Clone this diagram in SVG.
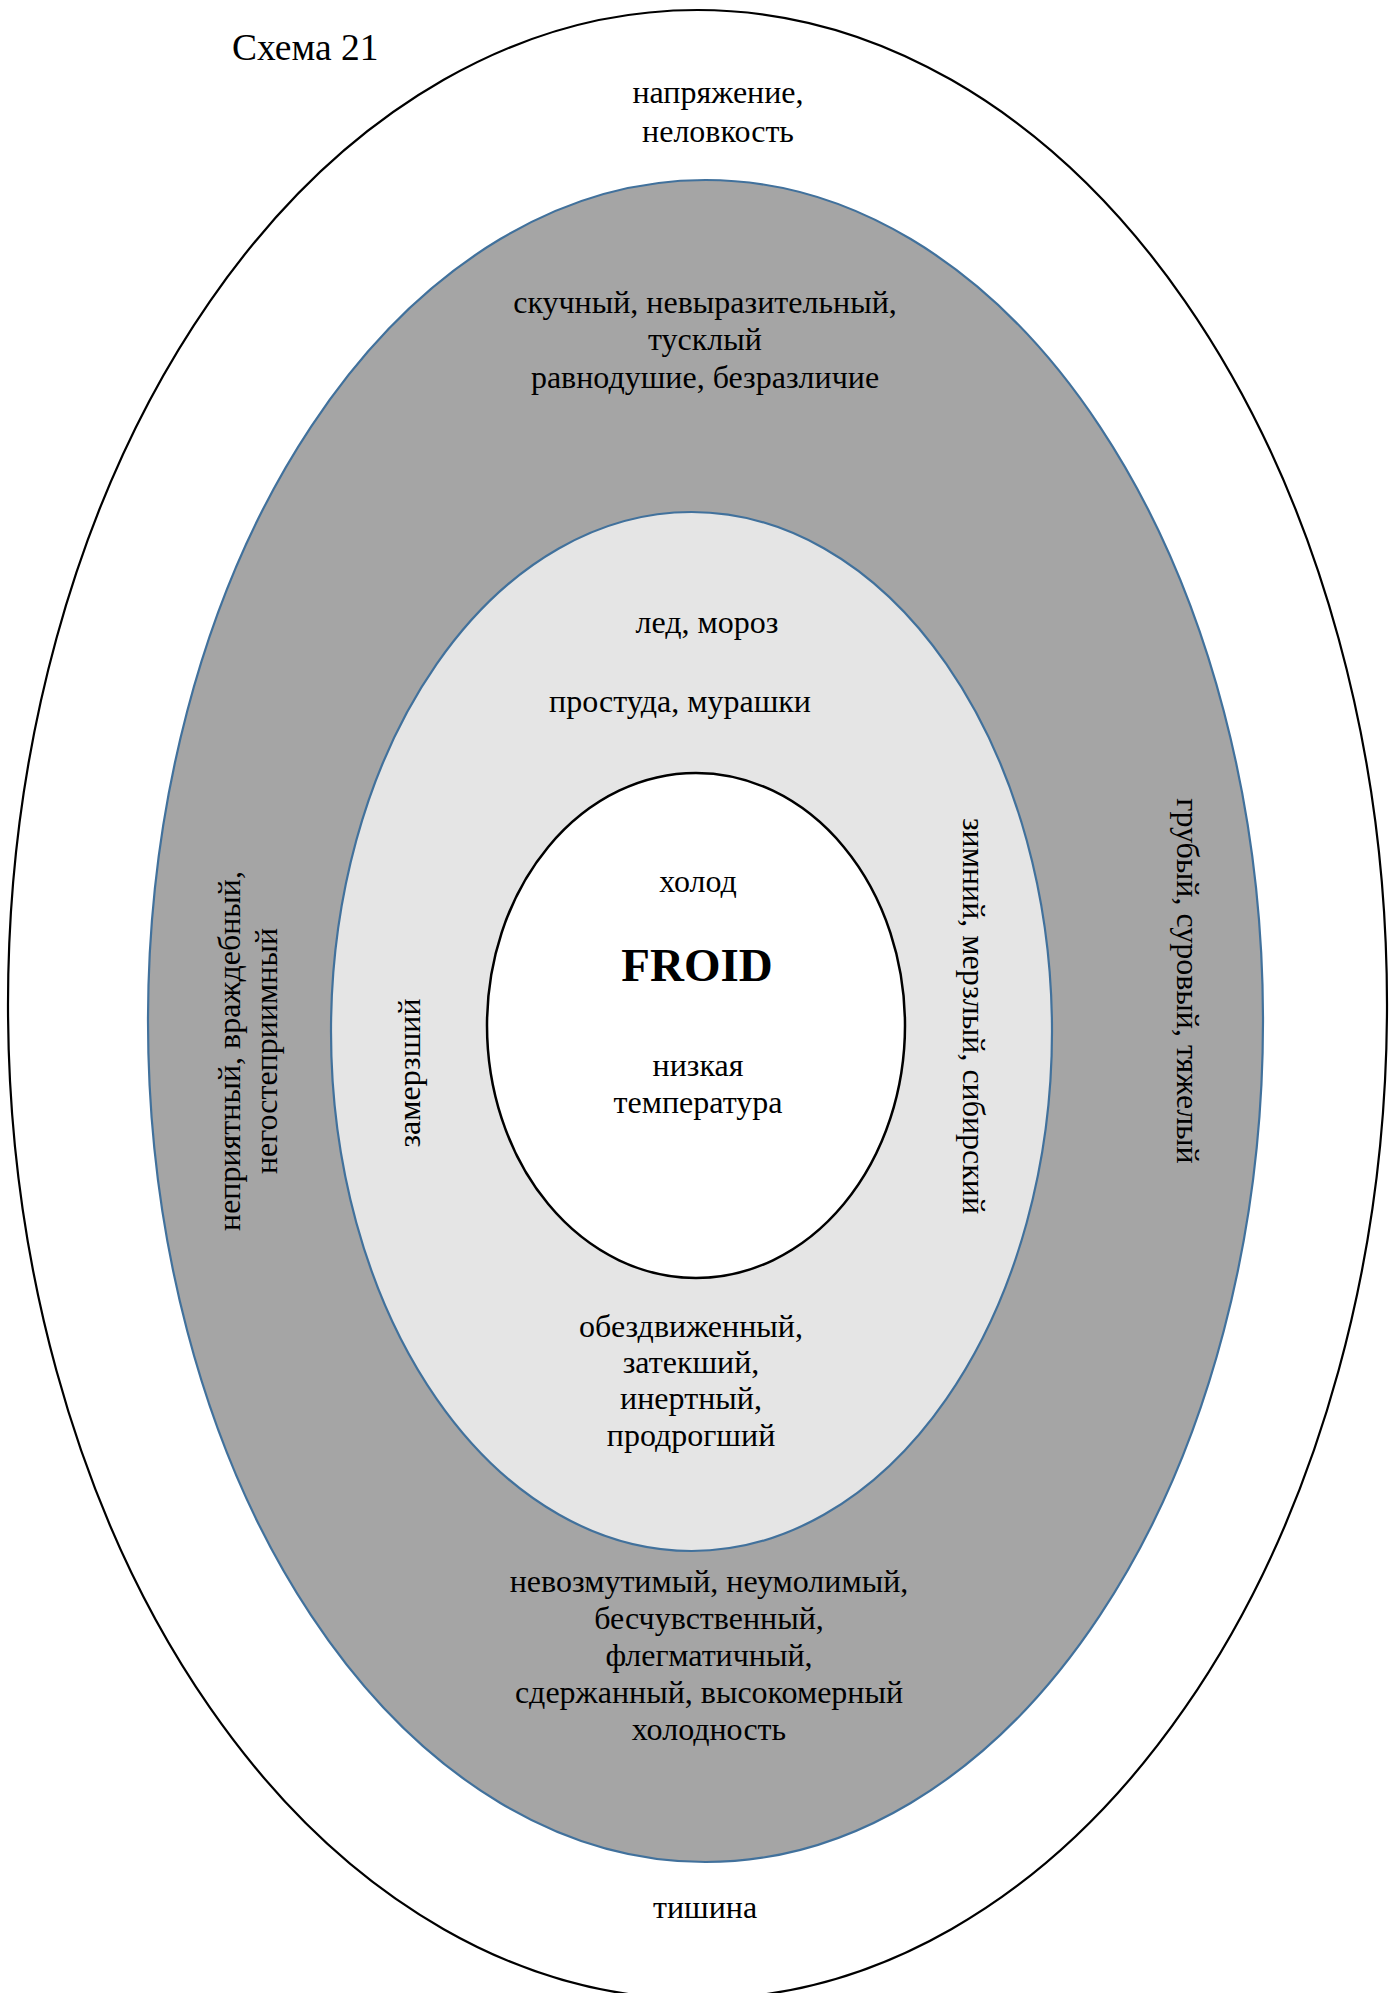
<svg xmlns="http://www.w3.org/2000/svg" width="1399" height="1993" viewBox="0 0 1399 1993">
  <style>
    .t { font-family: "Liberation Serif", "Times New Roman", serif; font-size: 32px; fill: #000; text-anchor: middle; }
    .title { font-family: "Liberation Serif", "Times New Roman", serif; font-size: 37.5px; fill: #000; }
    .big { font-family: "Liberation Serif", "Times New Roman", serif; font-size: 47px; font-weight: bold; fill: #000; text-anchor: middle; }
    .ring-blue { stroke: #41719C; stroke-width: 2.2; }
  </style>
  <rect width="1399" height="1993" fill="#fff"/>

  <!-- outer ring -->
  <g id="ring-outer">
    <ellipse cx="697.5" cy="1004.5" rx="689.5" ry="994.5" fill="#fff" stroke="#000" stroke-width="2.2"/>
    <text class="t" x="718" y="103">напряжение,</text>
    <text class="t" x="718" y="142">неловкость</text>
    <text class="t" x="705" y="1918">тишина</text>
  </g>

  <!-- dark grey ring -->
  <g id="ring-dark">
    <ellipse class="ring-blue" cx="705.5" cy="1021" rx="557.5" ry="841" fill="#a5a5a5"/>
    <text class="t" x="705" y="313">скучный, невыразительный,</text>
    <text class="t" x="705" y="350">тусклый</text>
    <text class="t" x="705" y="388">равнодушие, безразличие</text>
    <text class="t" transform="translate(240,1051) rotate(-90)">неприятный, враждебный,</text>
    <text class="t" transform="translate(277,1051) rotate(-90)">негостеприимный</text>
    <text class="t" transform="translate(1177,981) rotate(90)">грубый, суровый, тяжелый</text>
    <text class="t" x="709" y="1592">невозмутимый, неумолимый,</text>
    <text class="t" x="709" y="1629">бесчувственный,</text>
    <text class="t" x="709" y="1666">флегматичный,</text>
    <text class="t" x="709" y="1703">сдержанный, высокомерный</text>
    <text class="t" x="709" y="1740">холодность</text>
  </g>

  <!-- light grey ring -->
  <g id="ring-light">
    <ellipse class="ring-blue" cx="691.5" cy="1031.5" rx="360.5" ry="519.5" fill="#e5e5e5"/>
    <text class="t" x="707" y="633">лед, мороз</text>
    <text class="t" x="680" y="712">простуда, мурашки</text>
    <text class="t" transform="translate(420,1073) rotate(-90)">замерзший</text>
    <text class="t" transform="translate(963,1016) rotate(90)">зимний, мерзлый, сибирский</text>
    <text class="t" x="691" y="1337">обездвиженный,</text>
    <text class="t" x="691" y="1373">затекший,</text>
    <text class="t" x="691" y="1409">инертный,</text>
    <text class="t" x="691" y="1446">продрогший</text>
  </g>

  <!-- core -->
  <g id="core">
    <ellipse cx="696" cy="1025.5" rx="209" ry="252.5" fill="#fff" stroke="#000" stroke-width="2.5"/>
    <text class="t" x="698" y="892">холод</text>
    <text class="big" x="697" y="981">FROID</text>
    <text class="t" x="698" y="1076">низкая</text>
    <text class="t" x="698" y="1113">температура</text>
  </g>

  <g id="connectors"/>

  <text class="title" x="232" y="60">Схема 21</text>
</svg>
